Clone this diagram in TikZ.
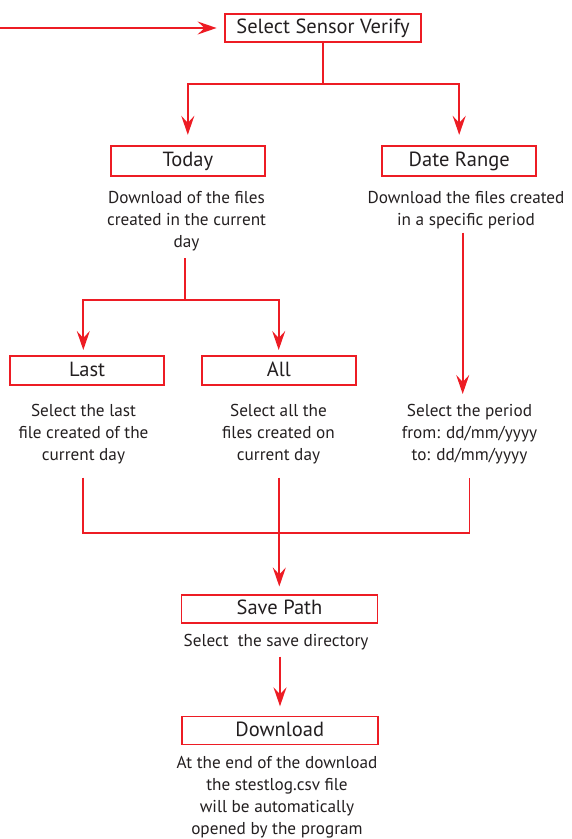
\documentclass[tikz,border=0pt]{standalone}
\usepackage{fontspec}
\setmainfont{PT Sans}
\usetikzlibrary{arrows.meta}
\definecolor{myred}{HTML}{ED1C24}
\definecolor{mytext}{HTML}{231F20}
\newcommand{\mlines}[1]{\begin{tabular}[t]{@{}c@{}}#1\end{tabular}}
\begin{document}
\begin{tikzpicture}[x=1pt,y=-1pt,
  box/.style={draw=myred, line width=1.8pt, fill=white, inner sep=0pt,
    text=mytext, font=\fontsize{20.5}{24}\selectfont,
    text height=14.8pt, text depth=3.6pt},
  desc/.style={inner sep=0pt, anchor=base, text=mytext,
    font=\fontsize{17.2}{22}\selectfont},
  conn/.style={draw=myred, line width=1.8pt},
  arr/.style={conn, -{Stealth[length=19pt,width=13pt,inset=7pt]}}]
\useasboundingbox (0,0) rectangle (571,839);
% boxes
\node[box, minimum width=196pt, minimum height=28pt] (ssv) at (323,28) {Select Sensor Verify};
\node[box, minimum width=154pt, minimum height=30.5pt] (today) at (187.8,161) {Today};
\node[box, minimum width=154pt, minimum height=30.5pt] (daterange) at (459.2,161) {Date Range};
\node[box, minimum width=154pt, minimum height=29pt] (last) at (87.2,370.7) {Last};
\node[box, minimum width=154pt, minimum height=29pt] (all) at (278.8,370.7) {All};
\node[box, minimum width=196pt, minimum height=28pt] (savepath) at (279.5,608.7) {Save Path};
\node[box, minimum width=196pt, minimum height=28pt] (download) at (279.7,730.5) {Download};
% descriptions
\node[desc] (todaydesc) at (186.5,203) {\mlines{Download of the files\\created in the current\\day}};
\node[desc] (datedesc) at (466,203) {\mlines{Download the files created\\in a specific period}};
\node[desc] (lastdesc) at (83.5,416.7) {\mlines{Select the last\\file created of the\\current day}};
\node[desc] (alldesc) at (278.5,416.7) {\mlines{Select all the\\files created on\\current day}};
\node[desc] (perioddesc) at (469.5,416.7) {\mlines{Select the period\\from: dd/mm/yyyy\\to: dd/mm/yyyy}};
\node[desc] (savedesc) at (276,646.7) {Select\ \ the save directory};
\node[desc] (downdesc) at (277,768.5) {\mlines{At the end of the download\\the stestlog.csv file\\will be automatically\\opened by the program}};
% coordinates
\coordinate (start) at (0,28);
\coordinate (j1) at (323,84.3);
\coordinate (t1) at (185,258);
\coordinate (j2) at (185,300);
\coordinate (alast) at (83.3,350);
\coordinate (aall) at (278.7,350);
\coordinate (d1) at (462.7,232.7);
\coordinate (d2) at (462.7,394);
\coordinate (b1) at (83.3,477.5);
\coordinate (b2) at (279.3,477.5);
\coordinate (b3) at (469.5,477.5);
\coordinate (m1) at (83.3,533.3);
\coordinate (m2) at (279.3,533.3);
\coordinate (m3) at (469.5,533.3);
\coordinate (s1) at (280,656.7);
% connectors
\draw[arr, shorten >=7.5pt] (start) -- (ssv.west);
\draw[conn] (ssv.south) -- (j1);
\draw[arr, shorten >=10pt] (j1) -| (today.north);
\draw[arr, shorten >=10pt] (j1) -| (daterange.north);
\draw[conn] (t1) -- (j2);
\draw[arr] (j2) -| (alast);
\draw[arr] (j2) -| (aall);
\draw[arr] (d1) -- (d2);
\draw[conn] (b1) -- (m1) -- (m3) -- (b3);
\draw[conn] (b2) -- (m2);
\draw[arr, shorten >=7.3pt] (m2) -- (m2 |- savepath.north);
\draw[arr, shorten >=9.3pt] (s1) -- (s1 |- download.north);
\end{tikzpicture}
\end{document}
